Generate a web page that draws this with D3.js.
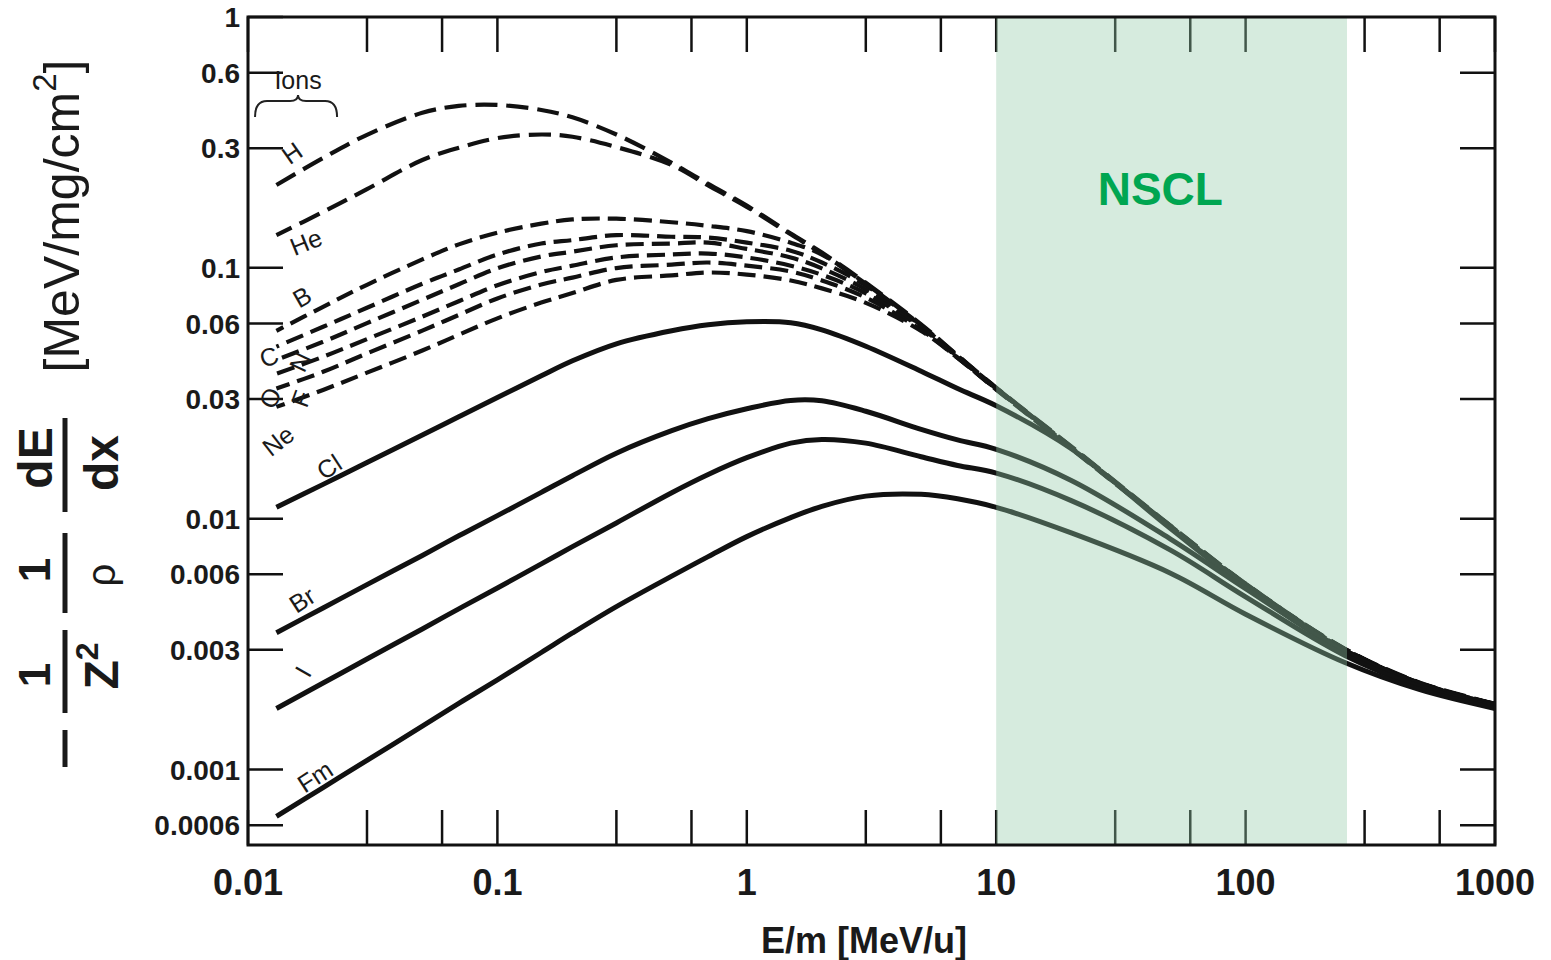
<!DOCTYPE html>
<html><head><meta charset="utf-8">
<script src="https://cdn.jsdelivr.net/npm/d3@7"></script>
<style>
body{margin:0;background:#fff;}
svg{display:block;}
text{font-family:"Liberation Sans",Arial,Helvetica,sans-serif;fill:#1a1a1a;}
</style>
</head><body>
<svg id="chart" width="1551" height="960"></svg>
<script>
// ---------- data (E/m in MeV/u, stopping power per Z^2 in MeV/(mg/cm^2)) ----------
const energy = [0.013,0.02,0.03,0.05,0.07,0.1,0.15,0.2,0.3,0.5,0.7,1,1.5,2,3,5,7,10,20,50,100,250,500,1000];
const ionNames = ["H","He","B","C","N","O","F","Ne","Cl","Br","I","Fm"];
const dashedIons = ["H","He","B","C","N","O","F","Ne"];
const sH  = [0.214,0.274,0.339,0.415,0.442,0.446,0.426,0.398,0.340,0.262,0.216,0.177,0.137,0.115,0.0872,0.0595,0.0448,0.0333,0.0194,0.00938,0.00551,0.00303,0.00222,0.00183];
const sHe = [0.135,0.167,0.206,0.269,0.301,0.329,0.340,0.333,0.303,0.257,0.213,0.175,0.136,0.114,0.0864,0.0590,0.0444,0.0331,0.0193,0.00935,0.00549,0.00302,0.00221,0.00182];
const sB  = [0.0561,0.0699,0.0856,0.108,0.124,0.138,0.150,0.156,0.157,0.152,0.147,0.140,0.126,0.113,0.0864,0.0590,0.0446,0.0332,0.0193,0.00935,0.0055,0.00302,0.00221,0.00182];
const sC  = [0.0485,0.0582,0.0693,0.0864,0.0985,0.113,0.125,0.129,0.135,0.133,0.132,0.126,0.117,0.105,0.0851,0.0587,0.0444,0.0331,0.0192,0.00932,0.00548,0.00301,0.00221,0.00182];
const sN  = [0.0430,0.0507,0.0602,0.0746,0.0860,0.0996,0.111,0.116,0.123,0.125,0.126,0.119,0.110,0.0995,0.0820,0.0582,0.0442,0.0330,0.0192,0.0093,0.00547,0.00301,0.0022,0.00182];
const sO  = [0.0378,0.0442,0.0520,0.0639,0.0736,0.0852,0.0962,0.102,0.110,0.113,0.114,0.110,0.102,0.0938,0.0791,0.0577,0.0440,0.0329,0.0191,0.00928,0.00546,0.0030,0.0022,0.00181];
const sF  = [0.0330,0.0385,0.0456,0.0562,0.0649,0.0755,0.0858,0.0914,0.0998,0.103,0.105,0.102,0.0967,0.0891,0.0761,0.0566,0.0438,0.0328,0.0191,0.00926,0.00545,0.0030,0.0022,0.00181];
const sNe = [0.0279,0.0326,0.0382,0.0468,0.0541,0.0629,0.0727,0.0793,0.0895,0.0933,0.0958,0.0940,0.0890,0.0828,0.0725,0.0560,0.0438,0.0327,0.0190,0.00924,0.00544,0.00299,0.0022,0.00181];
const sCl = [0.0111,0.0137,0.01676,0.02156,0.02549,0.0304,0.03713,0.04261,0.0498,0.0561,0.0593,0.0609,0.0604,0.0566,0.0487,0.0387,0.0330,0.0282,0.0190,0.00913,0.00536,0.00295,0.00218,0.00182];
const sBr = [0.00351,0.004407,0.005459,0.007135,0.008543,0.01028,0.01273,0.01483,0.01824,0.02242,0.02503,0.02743,0.0296,0.0295,0.0268,0.0227,0.0206,0.0189,0.0142,0.00829,0.00526,0.00295,0.00218,0.00180];
const sI  = [0.00175,0.002211,0.002758,0.003633,0.004371,0.005294,0.0066,0.007732,0.009614,0.01269,0.0150,0.0175,0.0200,0.0207,0.0200,0.01766,0.0163,0.0152,0.0118,0.00749,0.00488,0.00285,0.00214,0.00178];
const sFm = [0.00065,0.000847,0.001088,0.001488,0.001835,0.002279,0.002927,0.003501,0.00446,0.0059,0.007057,0.00848,0.0101,0.0112,0.0123,0.0125,0.0120,0.0111,0.00877,0.00606,0.00416,0.00267,0.00208,0.00175];
const seriesValues = [sH,sHe,sB,sC,sN,sO,sF,sNe,sCl,sBr,sI,sFm];

// curve labels
const labelText = ["H","He","B","C","N","O","F","Ne","Cl","Br","I","Fm"];
const labelE    = [0.01501,0.01708,0.01646,0.01214,0.01616,0.01225,0.01631,0.01319,0.02113,0.01646,0.01661,0.01856];
const labelV    = [0.2871,0.1269,0.0766,0.0442,0.0422,0.0303,0.0301,0.02046,0.01611,0.004756,0.002458,0.000938];
const labelRot  = [-35,-22,-30,-20,-65,-60,-70,-38,-33,-33,-60,-33];

const xTickValues = [0.01,0.03,0.06,0.1,0.3,0.6,1,3,6,10,30,60,100,300,600,1000];
const xTickLabels = [0.01,0.1,1,10,100,1000];
const yTickValues = [1,0.6,0.3,0.1,0.06,0.03,0.01,0.006,0.003,0.001,0.0006];
const bandRange = [10,255];   // NSCL energy range (MeV/u)

// ---------- scales ----------
const svg = d3.select("#chart");
const x = d3.scaleLog().domain([0.01,1000]).range([248,1495]);
const y = d3.scaleLog().domain([0.0005,1]).range([845,17]);
const TL = 35;

// ---------- curves ----------
const line = d3.line().x(d=>x(d[0])).y(d=>y(d[1])).curve(d3.curveCatmullRom.alpha(0.5));
const gCurves = svg.append("g");
ionNames.forEach((name,i)=>{
  const pts = energy.map((e,j)=>[e,seriesValues[i][j]]);
  const dashed = dashedIons.includes(name);
  gCurves.append("path")
    .attr("d", line(pts))
    .attr("fill","none")
    .attr("stroke","#111")
    .attr("stroke-width", dashed ? 4.2 : 5)
    .attr("stroke-linecap","butt")
    .attr("stroke-dasharray", dashed ? (i<2 ? "22,9" : "18,8") : null)
    .attr("stroke-dashoffset", dashed ? i*5 : null);
});

// ---------- ticks (inward on all four sides) ----------
const gT = svg.append("g").attr("stroke","#111").attr("stroke-width",2.5);
xTickValues.forEach(v=>{
  gT.append("line").attr("x1",x(v)).attr("x2",x(v)).attr("y1",y.range()[0]).attr("y2",y.range()[0]-TL);
  gT.append("line").attr("x1",x(v)).attr("x2",x(v)).attr("y1",y.range()[1]).attr("y2",y.range()[1]+TL);
});
yTickValues.forEach(v=>{
  gT.append("line").attr("x1",x.range()[0]).attr("x2",x.range()[0]+TL).attr("y1",y(v)).attr("y2",y(v));
  gT.append("line").attr("x1",x.range()[1]).attr("x2",x.range()[1]-TL).attr("y1",y(v)).attr("y2",y(v));
});

// ---------- curve labels ----------
labelText.forEach((t,i)=>{
  svg.append("text")
    .attr("transform",`translate(${x(labelE[i])},${y(labelV[i])}) rotate(${labelRot[i]})`)
    .attr("text-anchor","middle").attr("dy","0.36em")
    .attr("font-size",25).text(t);
});
// "Ions" with brace
svg.append("text").attr("x",x(0.01587)).attr("y",y(0.561)).attr("dy","0.36em")
  .attr("text-anchor","middle").attr("font-size",25).text("Ions");
{
  const xl=x(0.01067), xr=x(0.02276), xm=x(0.01587), yt=y(0.4798), yb=y(0.3995);
  svg.append("path")
    .attr("d",`M${xl},${yb} Q${xl},${yt+4} ${xl+12},${yt+4} L${xm-8},${yt+4} Q${xm},${yt+4} ${xm},${yt-2} Q${xm},${yt+4} ${xm+8},${yt+4} L${xr-12},${yt+4} Q${xr},${yt+4} ${xr},${yb}`)
    .attr("fill","none").attr("stroke","#222").attr("stroke-width",2);
}

// ---------- NSCL band (overlay) ----------
svg.append("rect")
  .attr("x",x(bandRange[0])).attr("width",x(bandRange[1])-x(bandRange[0]))
  .attr("y",y.range()[1]).attr("height",y.range()[0]-y.range()[1])
  .attr("fill","rgb(147,202,168)").attr("fill-opacity",0.38);
svg.append("text").attr("x",x(45.5)).attr("y",y(0.178))
  .attr("text-anchor","middle").attr("font-size",46).attr("font-weight","bold")
  .style("fill","#00a651").text("NSCL");

// ---------- frame ----------
svg.append("rect").attr("x",248).attr("y",17).attr("width",1495-248).attr("height",845-17)
  .attr("fill","none").attr("stroke","#111").attr("stroke-width",3);

// ---------- tick labels ----------
const fmt = v => String(v);
yTickValues.forEach(v=>{
  svg.append("text").attr("x",x.range()[0]-8).attr("y",y(v)).attr("dy","0.36em")
    .attr("text-anchor","end").attr("font-size",28).attr("font-weight","bold").text(fmt(v));
});
xTickLabels.forEach(v=>{
  svg.append("text").attr("x",x(v)).attr("y",895)
    .attr("text-anchor","middle").attr("font-size",36).attr("font-weight","bold").text(fmt(v));
});
svg.append("text").attr("x",864).attr("y",953).attr("text-anchor","middle")
  .attr("font-size",36).attr("font-weight","bold").text("E/m [MeV/u]");

// ---------- y-axis title (rotated formula) ----------
const gy = svg.append("g").attr("transform","translate(65,0) rotate(-90)");
const bar = (u1,u2,w)=>gy.append("line").attr("x1",u1).attr("x2",u2).attr("y1",0).attr("y2",0)
  .attr("stroke","#1a1a1a").attr("stroke-width",w);
bar(-767,-730,5);
gy.append("text").attr("x",-675).attr("y",-15).attr("text-anchor","middle").attr("font-size",44).attr("font-weight","bold").text("1");
bar(-713,-630,5);
const tz = gy.append("text").attr("x",-666).attr("y",53).attr("text-anchor","middle").attr("font-size",48).attr("font-weight","bold");
tz.append("tspan").text("Z");
tz.append("tspan").attr("font-size",32).attr("dy",-20).text("2");
gy.append("text").attr("x",-570).attr("y",-15).attr("text-anchor","middle").attr("font-size",44).attr("font-weight","bold").text("1");
bar(-613,-533,5);
gy.append("text").attr("x",-575).attr("y",50).attr("text-anchor","middle").attr("font-size",40).text("ρ");
gy.append("text").attr("x",-458).attr("y",-13).attr("text-anchor","middle").attr("font-size",48).attr("font-weight","bold").text("dE");
bar(-512,-418,5);
gy.append("text").attr("x",-463).attr("y",53).attr("text-anchor","middle").attr("font-size",48).attr("font-weight","bold").text("dx");
const tu = gy.append("text").attr("x",-216).attr("y",14).attr("text-anchor","middle").attr("font-size",50);
tu.append("tspan").text("[MeV/mg/cm");
tu.append("tspan").attr("font-size",33).attr("dy",-23).text("2");
tu.append("tspan").attr("dy",23).text("]");
</script>
</body></html>
